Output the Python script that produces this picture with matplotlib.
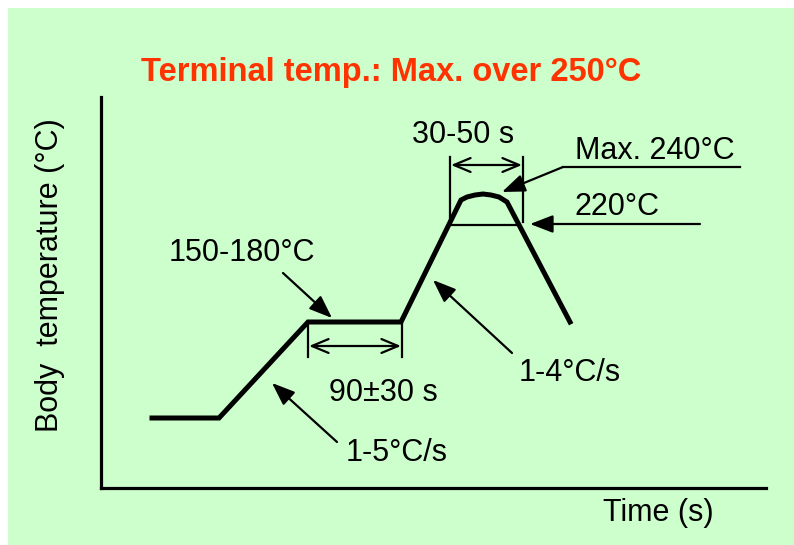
import matplotlib.pyplot as plt
from matplotlib.patches import Rectangle

plt.rcParams['font.family'] = ['Liberation Sans', 'DejaVu Sans']

# profile (pixel-like units: time from y-axis, temperature from x-axis)
time = [51, 118, 207, 300, 360, 366, 374, 382, 390, 398, 406, 469]
temp = [70, 70, 166, 166, 288, 291, 293, 294, 293, 291, 286, 166]

title = 'Terminal temp.: Max. over 250°C'
preheatLabel = '150-180°C'
preheatTime = '90±30 s'
rampLabel1 = '1-5°C/s'
rampLabel2 = '1-4°C/s'
peakTime = '30-50 s'
peakLabel = 'Max. 240°C'
liquidLabel = '220°C'

W, H = 794, 545
fig = plt.figure(figsize=(W/100, H/100), dpi=100)
fig.patch.set_facecolor('white')
fig.patches.append(Rectangle((8/W, 0), 1, 1-8/H, transform=fig.transFigure,
                             facecolor='#CCFFCC', edgecolor='none', zorder=-10))

# axes: x from 101 to 766 px, y from 97 to 488 px
ax = fig.add_axes([101/W, (H-488)/H, 665/W, 391/H])
ax.set_xlim(0, 665)
ax.set_ylim(0, 391)
ax.patch.set_visible(False)
for s in ['top', 'right']:
    ax.spines[s].set_visible(False)
for s in ['left', 'bottom']:
    ax.spines[s].set_linewidth(2.3)
ax.set_xticks([])
ax.set_yticks([])

ax.plot(time, temp, color='black', lw=3.6, solid_joinstyle='miter', clip_on=False)

fs = 22
def P(px, py):
    # picture pixel -> data
    return (px-101, 488-py)

def arrow(p0, p1):
    ax.annotate('', xy=P(*p1), xytext=P(*p0),
                arrowprops=dict(arrowstyle='-|>,head_length=0.7,head_width=0.27',
                                color='black', lw=1.6, mutation_scale=20,
                                shrinkA=0, shrinkB=0), annotation_clip=False)

def darrow(x0, x1, y):
    ax.annotate('', xy=P(x1, y), xytext=P(x0, y),
                arrowprops=dict(arrowstyle='<->,head_length=0.6,head_width=0.25',
                                color='black', lw=1.6, mutation_scale=20,
                                shrinkA=0, shrinkB=0), annotation_clip=False)

def seg(p0, p1, lw=1.6):
    a, b = P(*p0), P(*p1)
    ax.plot([a[0], b[0]], [a[1], b[1]], color='black', lw=lw, clip_on=False)

# preheat
ax.text(*P(242, 253), preheatLabel, fontsize=fs, ha='center', va='center')
arrow((283, 273), (332, 318))
seg((308, 322), (308, 357))
seg((402, 322), (402, 357))
darrow(309, 401, 346)
ax.text(*P(383, 393), preheatTime, fontsize=fs, ha='center', va='center')

# ramp up
ax.text(*P(397, 453), rampLabel1, fontsize=fs, ha='center', va='center')
arrow((337, 442), (272, 383))
ax.text(*P(570, 373), rampLabel2, fontsize=fs, ha='center', va='center')
arrow((512, 353), (433, 280))

# peak
ax.text(*P(463, 135), peakTime, fontsize=fs, ha='center', va='center')
seg((450, 157), (450, 222))
seg((523, 157), (523, 222))
darrow(451, 522, 165)
ax.text(*P(655, 151), peakLabel, fontsize=fs, ha='center', va='center')
seg((563, 167), (740, 167))
arrow((563, 167), (502, 192))
ax.text(*P(617, 207), liquidLabel, fontsize=fs, ha='center', va='center')
seg((450, 225), (517, 225))
arrow((700, 224), (530, 224))

# labels
fig.text(391/W, 1-73/H, title, fontsize=23.5, fontweight='bold', color='#FF3300',
         ha='center', va='center')
fig.text(658/W, 1-513/H, 'Time (s)', fontsize=fs, ha='center', va='center')
fig.text(50/W, 1-275/H, 'Body  temperature (°C)', fontsize=fs, rotation=90,
         ha='center', va='center')

plt.savefig('out.png', dpi=100)
